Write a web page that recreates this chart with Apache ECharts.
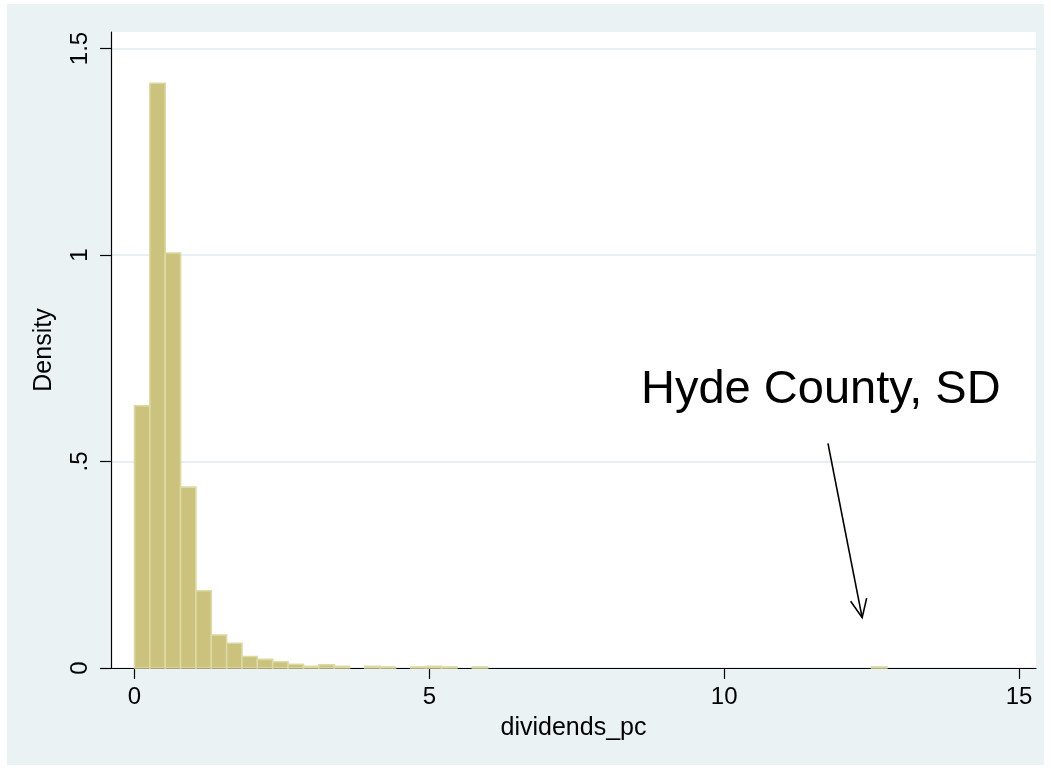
<!DOCTYPE html>
<html>
<head>
<meta charset="utf-8">
<script src="https://cdn.jsdelivr.net/npm/echarts@6/dist/echarts.min.js"></script>
<style>
html,body{margin:0;padding:0;background:#fff;}
#c{width:1051px;height:771px;}
</style>
</head>
<body>
<div id="c"></div>
<script>
// ---- data ----
const binWidth = 0.2604;
const density = [0.635, 1.416, 1.005, 0.438, 0.187, 0.080, 0.060, 0.028, 0.021, 0.015,
                 0.009, 0.004, 0.008, 0.004, 0, 0.004, 0.0025, 0, 0.0025, 0.004,
                 0.0025, 0, 0.0025, 0, 0, 0, 0, 0, 0, 0,
                 0, 0, 0, 0, 0, 0, 0, 0, 0, 0,
                 0, 0, 0, 0, 0, 0, 0, 0, 0.0025];
const xTicks = [0, 5, 10, 15];
const yTicks = [0, 0.5, 1, 1.5];
const yTickLabels = ['0', '.5', '1', '1.5'];
const xTitle = 'dividends_pc';
const yTitle = 'Density';
const noteText = 'Hyde County, SD';
const noteTextPos = [8.59, 0.672];
const arrowFrom = [11.76, 0.544];
const arrowTo = [12.34, 0.122];

const FONT = "'Liberation Sans', Arial, sans-serif";
const bars = [];
density.forEach((d, i) => { if (d > 0) bars.push([i * binWidth, (i + 1) * binWidth, d]); });

const chart = echarts.init(document.getElementById('c'), null, {renderer: 'canvas'});
chart.setOption({
  backgroundColor: '#ffffff',
  animation: false,
  graphic: [{
    type: 'rect', z: -10, silent: true,
    shape: {x: 7, y: 4, width: 1037, height: 761},
    style: {fill: '#EAF2F3'}
  }],
  grid: {
    left: 111, top: 32, right: 15, bottom: 103,
    show: true, backgroundColor: '#ffffff', borderWidth: 0
  },
  xAxis: {
    type: 'value', min: -0.3985, max: 15.288,
    name: xTitle, nameLocation: 'middle', nameGap: 48,
    nameTextStyle: {fontFamily: FONT, fontSize: 25, color: '#000'},
    axisLine: {show: true, onZero: false, lineStyle: {color: '#000', width: 1.2}},
    axisTick: {show: true, length: 11, customValues: xTicks, lineStyle: {color: '#000', width: 1.2}},
    axisLabel: {customValues: xTicks, margin: 17, fontFamily: FONT, fontSize: 24, color: '#000',
                formatter: v => String(v)},
    splitLine: {show: false}
  },
  yAxis: {
    type: 'value', min: 0, max: 1.54,
    name: yTitle, nameLocation: 'middle', nameGap: 54, nameRotate: 90,
    nameTextStyle: {fontFamily: FONT, fontSize: 25, color: '#000'},
    axisLine: {show: true, onZero: false, lineStyle: {color: '#000', width: 1.2}},
    axisTick: {show: true, length: 11, customValues: yTicks, lineStyle: {color: '#000', width: 1.2}},
    axisLabel: {customValues: yTicks, rotate: 90, margin: 19, fontFamily: FONT, fontSize: 24, color: '#000',
                formatter: v => { const k = yTicks.indexOf(v); return k >= 0 ? yTickLabels[k] : ''; }},
    splitLine: {show: true, customValues: yTicks.slice(1), lineStyle: {color: '#E6EFF1', width: 1.8}}
  },
  series: [{
    type: 'custom',
    data: bars,
    encode: {x: [0, 1], y: 2},
    renderItem: (params, api) => {
      const p0 = api.coord([api.value(0), api.value(2)]);
      const p1 = api.coord([api.value(1), 0]);
      return {
        type: 'rect',
        shape: {x: p0[0], y: p0[1], width: p1[0] - p0[0], height: p1[1] - p0[1]},
        style: {fill: '#CAC27D', stroke: '#DDD9A4', lineWidth: 1.6}
      };
    }
  }, {
    type: 'custom',
    data: [[arrowFrom[0], arrowFrom[1], arrowTo[0], arrowTo[1]]],
    encode: {x: [0, 2], y: [1, 3]},
    z: 5,
    renderItem: (params, api) => {
      const a = api.coord([api.value(0), api.value(1)]);
      const b = api.coord([api.value(2), api.value(3)]);
      const ang = Math.atan2(b[1] - a[1], b[0] - a[0]);
      const L = 20, spread = 0.42;
      const h1 = [b[0] - L * Math.cos(ang - spread), b[1] - L * Math.sin(ang - spread)];
      const h2 = [b[0] - L * Math.cos(ang + spread), b[1] - L * Math.sin(ang + spread)];
      return {
        type: 'group',
        children: [
          {type: 'line', shape: {x1: a[0], y1: a[1], x2: b[0], y2: b[1]}, style: {stroke: '#000', lineWidth: 1.6}},
          {type: 'polyline', shape: {points: [h1, b, h2]}, style: {stroke: '#000', lineWidth: 1.6, fill: null}}
        ]
      };
    }
  }, {
    type: 'custom',
    data: [[noteTextPos[0], noteTextPos[1]]],
    z: 5,
    renderItem: (params, api) => {
      const p = api.coord([api.value(0), api.value(1)]);
      return {
        type: 'text',
        x: p[0], y: p[1],
        style: {text: noteText, font: "47px 'Liberation Sans', Arial, sans-serif",
                fill: '#000', textAlign: 'left', textVerticalAlign: 'middle'}
      };
    }
  }]
});
</script>
</body>
</html>
